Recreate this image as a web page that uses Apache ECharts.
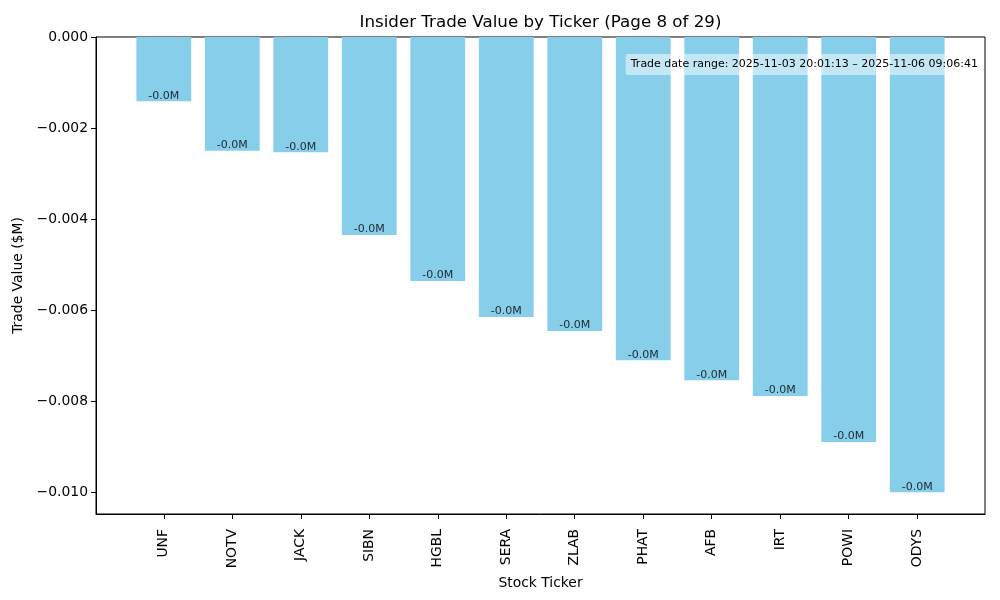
<!DOCTYPE html>
<html><head><meta charset="utf-8">
<script src="https://cdn.jsdelivr.net/npm/echarts@6/dist/echarts.min.js"></script>
<style>html,body{margin:0;padding:0;background:#fff}#c{width:1000px;height:600px}</style>
</head><body><div id="c"></div>
<script>
const tickers = ["UNF","NOTV","JACK","SIBN","HGBL","SERA","ZLAB","PHAT","AFB","IRT","POWI","ODYS"];
const values = [-0.00141,-0.00250,-0.00253,-0.00435,-0.00536,-0.00615,-0.00646,-0.00710,-0.00754,-0.00789,-0.00890,-0.01000];
const barLabels = ["-0.0M","-0.0M","-0.0M","-0.0M","-0.0M","-0.0M","-0.0M","-0.0M","-0.0M","-0.0M","-0.0M","-0.0M"];
const yTicks = [0,-0.002,-0.004,-0.006,-0.008,-0.010];
const titleText = "Insider Trade Value by Ticker (Page 8 of 29)";
const noteText = "Trade date range: 2025-11-03 20:01:13 \u2013 2025-11-06 09:06:41";

const font = "DejaVu Sans";
const idx = tickers.map((_, i) => i);
const gridW = 1000 - 96 - 15;
const xMin = -0.99, xMax = 11.99;
const barW = gridW * 0.8 / (xMax - xMin);

const chart = echarts.init(document.getElementById('c'), null, {renderer: 'canvas'});
chart.setOption({
  animation: false,
  textStyle: {fontFamily: font},
  grid: {left: 96, top: 37, right: 15, bottom: 86, show: true, borderColor: '#000', borderWidth: 1, backgroundColor: 'transparent'},
  xAxis: {
    type: 'value', min: xMin, max: xMax, position: 'bottom',
    name: 'Stock Ticker', nameLocation: 'middle', nameGap: 58,
    nameTextStyle: {fontFamily: font, fontSize: 13.9, color: '#000'},
    splitLine: {show: false},
    axisLine: {show: true, onZero: false, lineStyle: {color: '#000'}},
    axisTick: {show: true, length: 5, lineStyle: {color: '#000'}, customValues: idx},
    axisLabel: {customValues: idx, rotate: 90, margin: 15, fontFamily: font, fontSize: 13.9, color: '#000',
      formatter: v => tickers[Math.round(v)] || ''}
  },
  yAxis: {
    type: 'value', min: -0.01048, max: 0, position: 'left',
    name: 'Trade Value ($M)', nameLocation: 'middle', nameGap: 67, nameRotate: 90,
    nameTextStyle: {fontFamily: font, fontSize: 13.9, color: '#000'},
    splitLine: {show: false},
    axisLine: {show: true, onZero: false, lineStyle: {color: '#000'}},
    axisTick: {show: true, length: 5, lineStyle: {color: '#000'}, customValues: yTicks},
    axisLabel: {customValues: yTicks, margin: 8, fontFamily: font, fontSize: 13.9, color: '#000',
      formatter: v => (v < 0 ? '\u2212' : '') + Math.abs(v).toFixed(3)}
  },
  series: [
    {type: 'bar', data: values.map((v, i) => [i, v]), barWidth: barW,
      itemStyle: {color: '#87CEEB'}},
    {type: 'scatter', data: values.map((v, i) => [i, v]), symbolSize: 0.01,
      itemStyle: {color: 'transparent'},
      label: {show: true, position: 'top', distance: 0, fontFamily: font, fontSize: 11, color: '#000',
        formatter: p => barLabels[p.dataIndex]}}
  ],
  graphic: [{
    type: 'text', x: 540.5, y: 23, z: 100,
    style: {text: titleText, fontFamily: font, fontSize: 16.7, fill: '#000', align: 'center', verticalAlign: 'middle'}
  }, {
    type: 'text', right: 16, top: 54, z: 100,
    style: {text: noteText, fontFamily: font, fontSize: 11, fill: '#000',
      backgroundColor: 'rgba(255,255,255,0.5)', padding: [5, 6, 5, 5], borderRadius: 2}
  }]
});
</script></body></html>
